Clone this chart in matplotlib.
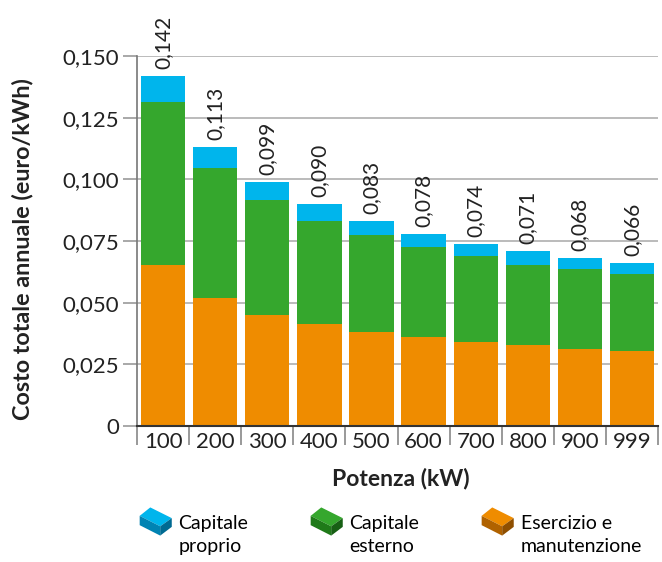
import matplotlib
matplotlib.use("Agg")
import matplotlib.pyplot as plt
from matplotlib.legend_handler import HandlerBase
from matplotlib.patches import Polygon, Patch
import numpy as np

# DATA
potenza = ["100", "200", "300", "400", "500", "600", "700", "800", "900", "999"]
esercizio = [0.0653, 0.0520, 0.0451, 0.0415, 0.0382, 0.0362, 0.0342, 0.0328, 0.0313, 0.0305]
cap_esterno = [0.0662, 0.0527, 0.0466, 0.0416, 0.0392, 0.0364, 0.0349, 0.0326, 0.0325, 0.0313]
cap_proprio = [0.0105, 0.0083, 0.0073, 0.0069, 0.0056, 0.0054, 0.0049, 0.0056, 0.0042, 0.0042]
totali = ["0,142", "0,113", "0,099", "0,090", "0,083", "0,078", "0,074", "0,071", "0,068", "0,066"]
yticks = [0, 0.025, 0.05, 0.075, 0.1, 0.125, 0.15]
ytick_labels = ["0", "0,025", "0,050", "0,075", "0,100", "0,125", "0,150"]

col_proprio = "#00b5ec"
col_esterno = "#35a72d"
col_esercizio = "#ef8c00"

plt.rcParams['font.family'] = ['Lato', 'DejaVu Sans']


class BoxHandler(HandlerBase):
    # little 3d brick for the legend, sits level with the first text line
    def __init__(self, top, left, right):
        super().__init__()
        self.top, self.left, self.right = top, left, right

    def create_artists(self, legend, orig_handle, xdescent, ydescent, width, height, fontsize, trans):
        w = width
        h = 1.45 * fontsize          # icon height in points
        x0 = -xdescent
        y0 = -ydescent + height - 0.4 * h
        def pts(p):
            return [(x0 + a * w, y0 + b * h) for a, b in p]
        top = Polygon(pts([(0, 0.70), (0.33, 1.0), (1.0, 0.62), (0.64, 0.33)]), fc=self.top, ec='none', transform=trans)
        left = Polygon(pts([(0, 0.70), (0.64, 0.33), (0.64, 0.0), (0, 0.37)]), fc=self.left, ec='none', transform=trans)
        right = Polygon(pts([(0.64, 0.33), (1.0, 0.62), (1.0, 0.31), (0.64, 0.0)]), fc=self.right, ec='none', transform=trans)
        return [top, left, right]


fig = plt.figure(figsize=(6.62, 5.62), dpi=100)
ax = fig.add_axes([0.207, 0.242, 0.787, 0.658])

x = np.arange(len(potenza))
w = 0.85
ax.bar(x, esercizio, w, color=col_esercizio, zorder=2)
ax.bar(x, cap_esterno, w, bottom=esercizio, color=col_esterno, zorder=2)
bott = np.array(esercizio) + np.array(cap_esterno)
ax.bar(x, cap_proprio, w, bottom=bott, color=col_proprio, zorder=2)

tops = bott + np.array(cap_proprio)
for xi, t, lab in zip(x, tops, totali):
    ax.annotate(lab, (xi, t), xytext=(0, 5), textcoords='offset points',
                rotation=90, ha='center', va='bottom', fontsize=15, color='#222222')

ax.set_xlim(-0.5, 9.5)
ax.set_ylim(0, 0.150)
ax.set_yticks(yticks)
ax.set_yticklabels(ytick_labels, fontsize=16, color='#222222')
ax.yaxis.grid(True, color='#b5b5b5', lw=1.3, zorder=0)
ax.tick_params(axis='y', length=10, width=1.2, color='#999999', pad=3)

ax.set_xticks(x)
ax.set_xticklabels(potenza, fontsize=16, color='#222222')
ax.tick_params(axis='x', which='major', length=0, pad=4)
ax.set_xticks(np.arange(-0.5, 10, 1), minor=True)
ax.tick_params(axis='x', which='minor', length=14, width=1.2, color='#888888')

for s in ['top', 'right']:
    ax.spines[s].set_visible(False)
ax.spines['left'].set_color('#777777')
ax.spines['left'].set_linewidth(1.2)
ax.spines['bottom'].set_color('#333333')
ax.spines['bottom'].set_linewidth(1.5)

fig.text(0.034, 0.556, "Costo totale annuale (euro/kWh)", rotation=90, ha='center', va='center',
         fontsize=16.8, fontweight='bold', color='#222222')
fig.text(0.605, 0.148, "Potenza (kW)", ha='center', va='center',
         fontsize=16.5, fontweight='bold', color='#222222')

handles = [Patch(label="Capitale\nproprio"), Patch(label="Capitale\nesterno"),
           Patch(label="Esercizio e\nmanutenzione")]
hmap = {handles[0]: BoxHandler(col_proprio, "#0083b3", "#006a92"),
        handles[1]: BoxHandler(col_esterno, "#1f7a19", "#176014"),
        handles[2]: BoxHandler(col_esercizio, "#b06200", "#8f4f00")}
leg = fig.legend(handles=handles, handler_map=hmap, loc='center left', bbox_to_anchor=(0.211, 0.048),
                 ncol=3, frameon=False, fontsize=14, handlelength=1.65, handleheight=1.4,
                 handletextpad=0.35, columnspacing=3.2, labelspacing=0.2, borderpad=0, borderaxespad=0)
for t in leg.get_texts():
    t.set_linespacing(1.45)

fig.savefig("out.png", dpi=100)
